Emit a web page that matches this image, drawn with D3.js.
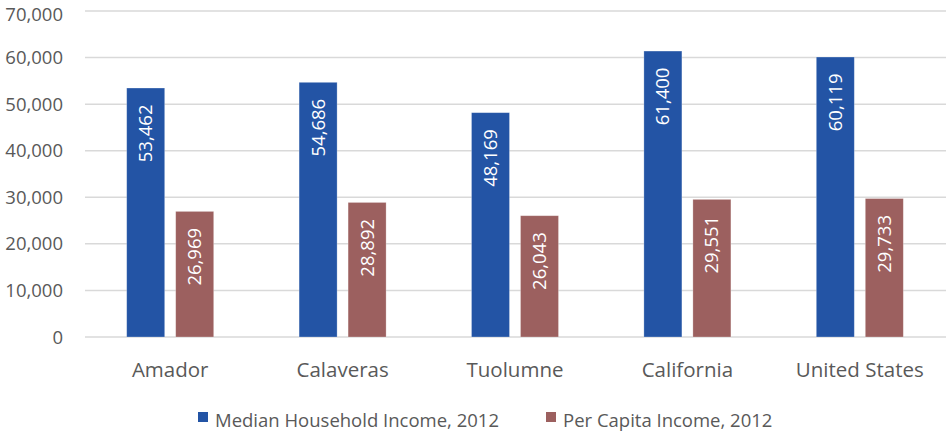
<!DOCTYPE html>
<html>
<head>
<meta charset="utf-8">
<script src="https://cdn.jsdelivr.net/npm/d3@7"></script>
<style>
  html, body { margin: 0; padding: 0; background: #fff; }
  svg text { font-family: "Open Sans", "DejaVu Sans", sans-serif; }
</style>
</head>
<body>
<svg id="chart" width="946" height="431"></svg>
<script>
// Income figures by area, 2012
const categories = ["Amador", "Calaveras", "Tuolumne", "California", "United States"];
const medianHousehold = [53462, 54686, 48169, 61400, 60119];
const perCapita = [26969, 28892, 26043, 29551, 29733];
const seriesNames = ["Median Household Income, 2012", "Per Capita Income, 2012"];
const yTicks = [0, 10000, 20000, 30000, 40000, 50000, 60000, 70000];

const colors = ["#2354A5", "#9C605F"];
const textColor = "#595959";
const gridColor = "#D9D9D9";

const svg = d3.select("#chart");
const plot = { left: 84, right: 946, top: 11, bottom: 337 };

const x = d3.scaleBand().domain(categories).range([plot.left, plot.right]).padding(0);
const y = d3.scaleLinear().domain([0, 70000]).range([plot.bottom, plot.top]);

const barW = 38, barGap = 11;
const groupW = barW * 2 + barGap;

// Gridlines
svg.append("g")
  .selectAll("line")
  .data(yTicks)
  .join("line")
  .attr("x1", plot.left + 1)
  .attr("x2", plot.right)
  .attr("y1", d => y(d))
  .attr("y2", d => y(d))
  .attr("stroke", gridColor)
  .attr("stroke-width", 1.5);

// Y axis labels (baseline kept inside the top edge of the canvas)
const yAxis = d3.axisLeft(y).tickValues(yTicks).tickFormat(d3.format(",")).tickSize(0).tickPadding(0);
const yg = svg.append("g").attr("transform", `translate(63,0)`).call(yAxis);
yg.select(".domain").remove();
yg.selectAll(".tick").attr("transform", d => `translate(0,${Math.max(y(d) + 6.5, 20.5)})`);
yg.selectAll("text")
  .attr("fill", textColor)
  .attr("font-size", "18.5px")
  .attr("dy", 0)
  .attr("text-anchor", "end");

// X axis labels
const xAxis = d3.axisBottom(x).tickSize(0).tickPadding(0);
const xg = svg.append("g").attr("transform", `translate(0,${plot.bottom})`).call(xAxis);
xg.select(".domain").remove();
xg.selectAll("text")
  .attr("fill", textColor)
  .attr("font-size", "20.5px")
  .attr("y", 40)
  .attr("dy", 0);

// Bars and inside-end value labels
const series = [medianHousehold, perCapita];
series.forEach((vals, si) => {
  const g = svg.append("g");
  const bx = (c) => x(c) + x.bandwidth() / 2 - groupW / 2 + si * (barW + barGap);
  g.selectAll("rect")
    .data(categories)
    .join("rect")
    .attr("x", c => bx(c))
    .attr("y", (c, i) => y(vals[i]))
    .attr("width", barW)
    .attr("height", (c, i) => y(0) - y(vals[i]))
    .attr("fill", colors[si])
    .attr("stroke", "#ffffff")
    .attr("stroke-opacity", 0.35)
    .attr("stroke-width", 0.75);
  g.selectAll("text")
    .data(categories)
    .join("text")
    .attr("transform", (c, i) => `translate(${bx(c) + barW / 2},${y(vals[i]) + 16.5}) rotate(-90)`)
    .attr("text-anchor", "end")
    .attr("dy", "0.35em")
    .attr("fill", "#ffffff")
    .attr("font-size", "18.5px")
    .text((c, i) => d3.format(",")(vals[i]));
});

// Legend
const legendPos = [198, 546];
const legend = svg.append("g");
seriesNames.forEach((name, i) => {
  legend.append("rect")
    .attr("x", legendPos[i])
    .attr("y", 412)
    .attr("width", 10)
    .attr("height", 10)
    .attr("fill", colors[i]);
  legend.append("text")
    .attr("x", legendPos[i] + 17)
    .attr("y", 427)
    .attr("fill", textColor)
    .attr("font-size", "18.5px")
    .text(name);
});
</script>
</body>
</html>
